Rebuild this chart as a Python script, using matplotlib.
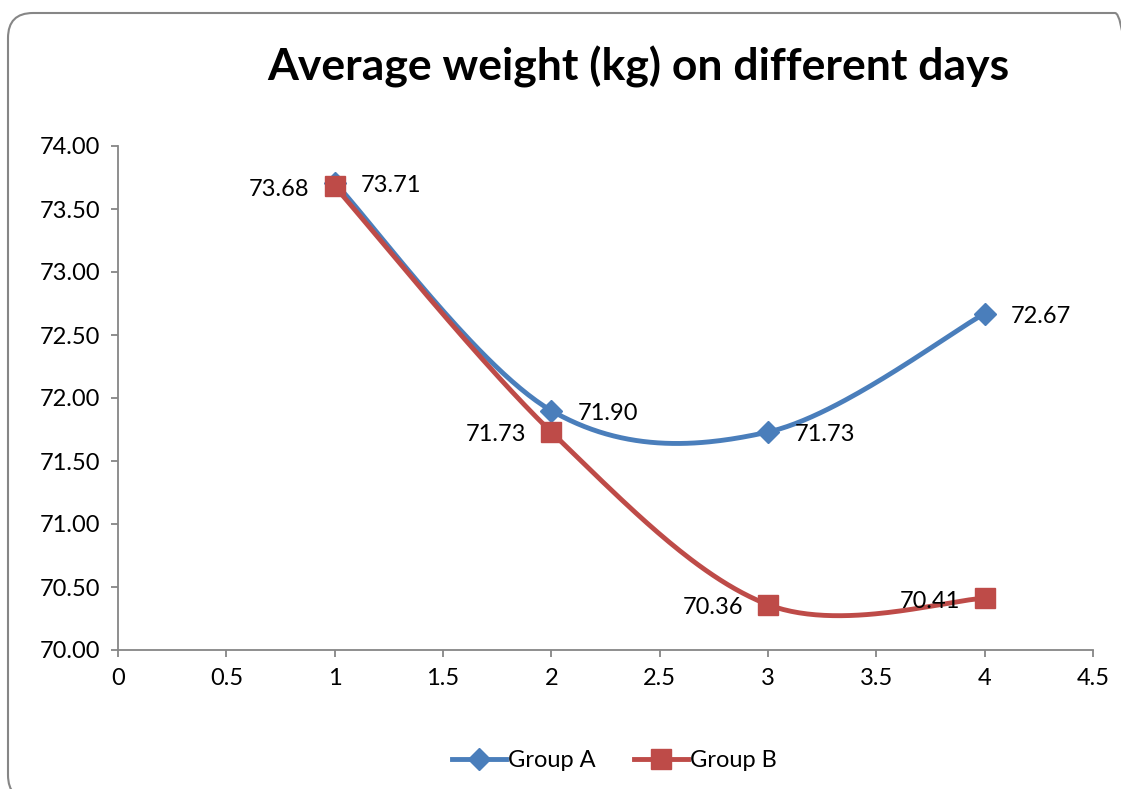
import numpy as np
import matplotlib
matplotlib.use("Agg")
import matplotlib.pyplot as plt
from matplotlib.patches import FancyBboxPatch
from matplotlib.lines import Line2D

days = [1, 2, 3, 4]
group_a = [73.71, 71.90, 71.73, 72.67]
group_b = [73.68, 71.73, 70.36, 70.41]
x_ticks = [0, 0.5, 1, 1.5, 2, 2.5, 3, 3.5, 4, 4.5]
y_ticks = [70.0, 70.5, 71.0, 71.5, 72.0, 72.5, 73.0, 73.5, 74.0]

BLUE = "#4A7EBB"
RED = "#BE4B48"

plt.rcParams["font.family"] = ["Lato", "DejaVu Sans"]


def smooth(xs, ys, n=60):
    # Catmull-Rom style bezier segments (same idea as spreadsheet "smoothed line")
    pts = np.column_stack([xs, ys]).astype(float)
    ext = np.vstack([pts[0], pts, pts[-1]])
    out = []
    t = np.linspace(0, 1, n)[:, None]
    for i in range(len(pts) - 1):
        p0, p1, p2, p3 = ext[i], ext[i + 1], ext[i + 2], ext[i + 3]
        c1 = p1 + (p2 - p0) / 6.0
        c2 = p2 - (p3 - p1) / 6.0
        seg = ((1 - t) ** 3) * p1 + 3 * ((1 - t) ** 2) * t * c1 + 3 * (1 - t) * t ** 2 * c2 + t ** 3 * p2
        out.append(seg if i == 0 else seg[1:])
    seg = np.vstack(out)
    return seg[:, 0], seg[:, 1]


fig = plt.figure(figsize=(11.21, 7.89), dpi=100)

# rounded chart border (runs off the right and bottom edges), in inches
frame = FancyBboxPatch((0.08, -0.11), 11.32, 7.87, boxstyle="round,pad=0,rounding_size=0.25",
                       transform=fig.dpi_scale_trans, facecolor="none", edgecolor="#868686",
                       linewidth=1.5, zorder=0)
fig.patches.append(frame)

ax = fig.add_axes([118 / 1121, 1 - 650 / 789, (1093 - 118) / 1121, (650 - 146) / 789])
ax.set_facecolor("none")

LW = 3.5
sx, sy = smooth(days, group_a)
ax.plot(sx, sy, color=BLUE, lw=LW, solid_capstyle="round", zorder=3)
ax.plot(days, group_a, ls="none", marker="D", ms=11.5, color=BLUE, zorder=4)

sx, sy = smooth(days, group_b)
ax.plot(sx, sy, color=RED, lw=LW, solid_capstyle="round", zorder=3)
ax.plot(days, group_b, ls="none", marker="s", ms=14, color=RED, zorder=5)

for x, y in zip(days, group_a):
    ax.annotate(f"{y:.2f}", (x, y), xytext=(19, -2), textcoords="offset points",
                ha="left", va="center", fontsize=17, zorder=6)
for x, y in zip(days, group_b):
    ax.annotate(f"{y:.2f}", (x, y), xytext=(-18, -2), textcoords="offset points",
                ha="right", va="center", fontsize=17, zorder=6)

ax.set_xlim(0, 4.5)
ax.set_ylim(70, 74)
ax.set_xticks(x_ticks)
ax.set_xticklabels([f"{v:g}" for v in x_ticks])
ax.set_yticks(y_ticks)
ax.set_yticklabels([f"{v:.2f}" for v in y_ticks])
for side in ["top", "right"]:
    ax.spines[side].set_visible(False)
for side in ["left", "bottom"]:
    ax.spines[side].set_color("#868686")
    ax.spines[side].set_linewidth(1.3)
ax.tick_params(axis="both", colors="#868686", labelcolor="black", labelsize=17,
               length=5, width=1.3, direction="out", pad=8)

fig.text(0.569, 0.915, "Average weight (kg) on different days", ha="center", va="center",
         fontsize=32, fontweight="bold")

handles = [
    Line2D([], [], color=BLUE, lw=LW, marker="D", ms=11.5),
    Line2D([], [], color=RED, lw=LW, marker="s", ms=14),
]
fig.legend(handles, ["Group A", "Group B"], loc="center", bbox_to_anchor=(0.548, 0.036),
           ncol=2, frameon=False, fontsize=17, handlelength=2.3, handletextpad=0.1,
           columnspacing=1.6)

fig.savefig("out.png", dpi=100)
